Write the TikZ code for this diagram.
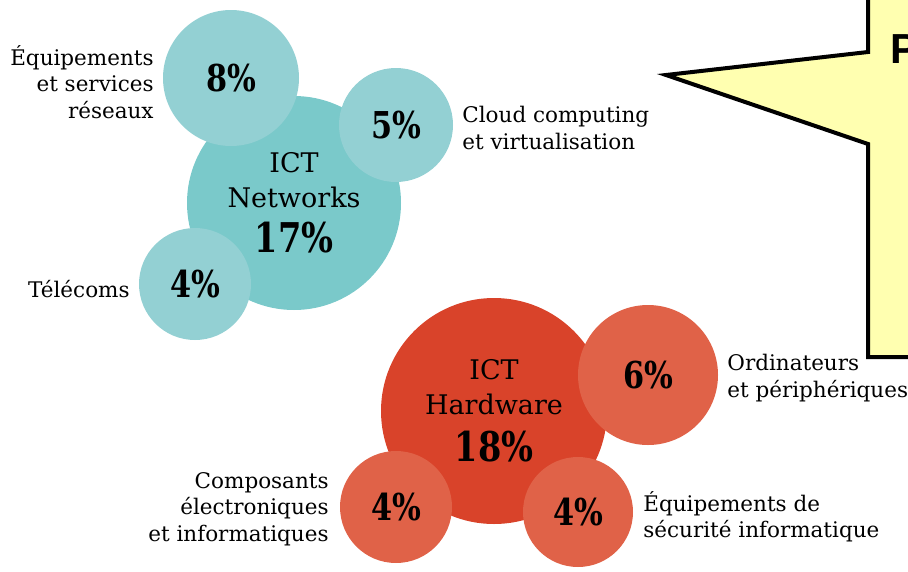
\documentclass[tikz,border=0pt]{standalone}
\usepackage{graphicx}
\usepackage{fontspec}
\setmainfont{DejaVu Serif}
\newfontfamily\notefont{Liberation Sans}
\usetikzlibrary{positioning}

\definecolor{netbig}{HTML}{7AC9CA}
\definecolor{netsmall}{HTML}{93D0D3}
\definecolor{hwbig}{HTML}{D9432A}
\definecolor{hwsmall}{HTML}{E06248}
\definecolor{notefill}{HTML}{FFFFB0}

% percentage in heavy figures
\newcommand{\pct}[2]{{\fontsize{#1}{#1}\selectfont\bfseries\scalebox{0.82}[1]{#2\%}}}

\tikzset{
  bubble/.style={circle,inner sep=0pt,minimum size=#1},
  lab/.style={font=\fontsize{21.5}{26.5}\selectfont,inner sep=0pt},
  title/.style={align=center,font=\fontsize{27}{35}\selectfont}
}

\begin{document}
\begin{tikzpicture}[x=1pt,y=-1pt]
  \useasboundingbox (0,0) rectangle (908,571);
  \clip (0,0) rectangle (908,571);

  % callout on the right, cut by the page edge
  \draw[line width=4pt,fill=notefill] (868,-20) -- (868,52) -- (666,75) -- (868,144)
    -- (868,357) -- (940,357) -- (940,-20) -- cycle;
  \node[anchor=base west,inner sep=0pt,font={\notefont\fontsize{42}{42}\selectfont\bfseries}] (note) at (890,63) {P};

  % ICT networks
  \node[bubble=214pt,fill=netbig,title] (net) at (294,203) {ICT\\Networks\\[10pt]\pct{41}{17}};
  \node[bubble=136pt,fill=netsmall] (equip) at (231,78) {\pct{37}{8}};
  \node[bubble=114pt,fill=netsmall] (cloud) at (396,125) {\pct{37}{5}};
  \node[bubble=112pt,fill=netsmall] (telecom) at (195,284) {\pct{37}{4}};
  \node[lab,align=right,left=9pt of equip,yshift=-4pt] (equiplab) {Équipements\\et services\\réseaux};
  \node[lab,align=left,right=9pt of cloud,yshift=-3pt] (cloudlab) {Cloud computing\\et virtualisation};
  \node[lab,left=9pt of telecom,yshift=-5pt] (telecomlab) {Télécoms};

  % ICT hardware
  \node[bubble=226pt,fill=hwbig,title] (hw) at (494,411) {ICT\\Hardware\\[12pt]\pct{41}{18}};
  \node[bubble=140pt,fill=hwsmall] (pc) at (648,375) {\pct{37}{6}};
  \node[bubble=112pt,fill=hwsmall] (comp) at (396,507) {\pct{37}{4}};
  \node[bubble=110pt,fill=hwsmall] (secu) at (578,512) {\pct{37}{4}};
  \node[lab,align=left,right=9pt of pc,yshift=-3pt] (pclab) {Ordinateurs\\et périphériques};
  \node[lab,align=right,left=11pt of comp,yshift=-2pt] (complab) {Composants\\électroniques\\et informatiques};
  \node[lab,align=left,right=10pt of secu,yshift=-5pt] (seculab) {Équipements de\\sécurité informatique};
\end{tikzpicture}
\end{document}
